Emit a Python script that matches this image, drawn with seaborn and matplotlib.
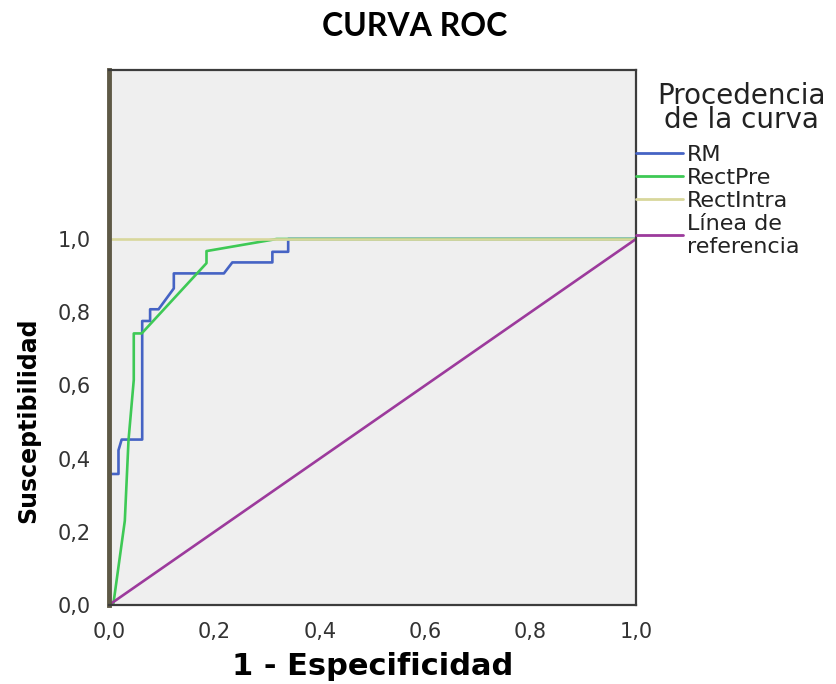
import matplotlib
matplotlib.use("Agg")
import matplotlib.pyplot as plt
import seaborn as sns
import pandas as pd
from matplotlib.ticker import FuncFormatter

# ---- data ----
curves = ["RM", "RectPre", "RectIntra", "Línea de\nreferencia"]
colors = ["#4563c4", "#3ec955", "#d8d79c", "#9c3a9c"]

rm_fpr = [0.0, 0.0, 0.018, 0.018, 0.024, 0.063, 0.063, 0.078, 0.078, 0.094, 0.123, 0.123,
          0.218, 0.234, 0.310, 0.310, 0.340, 0.340, 1.0]
rm_tpr = [0.0, 0.358, 0.358, 0.423, 0.452, 0.452, 0.776, 0.776, 0.808, 0.808, 0.865, 0.906,
          0.906, 0.936, 0.936, 0.965, 0.965, 1.0, 1.0]

pre_fpr = [0.008, 0.030, 0.037, 0.047, 0.047, 0.062, 0.185, 0.185, 0.318, 1.0]
pre_tpr = [0.0, 0.230, 0.450, 0.615, 0.742, 0.742, 0.934, 0.967, 1.0, 1.0]

intra_fpr = [0.0, 0.0, 1.0]
intra_tpr = [0.0, 1.0, 1.0]

ref_fpr = [0.0, 1.0]
ref_tpr = [0.0, 1.0]

y_ticks = [0.0, 0.2, 0.4, 0.6, 0.8, 1.0]
x_ticks = [0.0, 0.2, 0.4, 0.6, 0.8, 1.0]

legend_title = "Procedencia\nde la curva"

frames = []
for name, fx, fy in zip(curves,
                        [rm_fpr, pre_fpr, intra_fpr, ref_fpr],
                        [rm_tpr, pre_tpr, intra_tpr, ref_tpr]):
    frames.append(pd.DataFrame({"fpr": fx, "tpr": fy, "curva": name}))
df = pd.concat(frames, ignore_index=True)

sns.set_style("white")
plt.rcParams["font.family"] = ["DejaVu Sans"]

fig = plt.figure(figsize=(8.36, 6.84), dpi=100)
ax = fig.add_axes([109 / 836, 1 - 605 / 684, 527 / 836, 535 / 684])
ax.set_facecolor("#efefef")

sns.lineplot(data=df, x="fpr", y="tpr", hue="curva", hue_order=curves,
             palette=dict(zip(curves, colors)), sort=False, estimator=None,
             linewidth=1.9, ax=ax, legend=True)

ax.set_xlim(0, 1)
ax.set_ylim(0, 535 / 366)
ax.set_xticks(x_ticks)
ax.set_yticks(y_ticks)
fmt = FuncFormatter(lambda v, p: f"{v:.1f}".replace(".", ","))
ax.xaxis.set_major_formatter(fmt)
ax.yaxis.set_major_formatter(fmt)
ax.tick_params(axis="both", direction="out", length=9, width=2, color="#3a3a3a",
               labelsize=15, labelcolor="#333333", pad=3)
ax.tick_params(axis="y", length=11, pad=2)

for side in ["top", "right", "bottom"]:
    ax.spines[side].set_visible(True)
    ax.spines[side].set_color("#3c3c3c")
    ax.spines[side].set_linewidth(1.6)
ax.spines["left"].set_color("#5e5946")
ax.spines["left"].set_linewidth(3.5)

ax.set_xlabel("1 - Especificidad", fontsize=22, fontweight="bold", color="black")
ax.set_ylabel("Susceptibilidad", fontsize=17, fontweight="bold", color="black")
ax.xaxis.set_label_coords(0.5, -0.088)
ax.yaxis.set_label_coords(-0.13, 0.346)

handles, labels = ax.get_legend_handles_labels()
leg = ax.legend(handles, labels, loc="upper left",
                bbox_to_anchor=(1.0, (605 - 145) / 535), frameon=False, fontsize=16,
                handlelength=2.1, handletextpad=0.2,
                labelspacing=0.13, borderpad=0, borderaxespad=0)
for t in leg.get_texts():
    t.set_color("#222222")
for line in leg.get_lines():
    line.set_linewidth(2.0)

fig.text(741 / 836, 1 - 108 / 684, legend_title, ha="center", va="center",
         multialignment="center", linespacing=0.78, fontsize=20, color="#222222")

fig.text(415 / 836, 1 - 27 / 684, "CURVA ROC", ha="center", va="center",
         fontsize=23, fontweight="bold", color="black", family=["Lato", "DejaVu Sans"])

fig.savefig("out.png", dpi=100)
